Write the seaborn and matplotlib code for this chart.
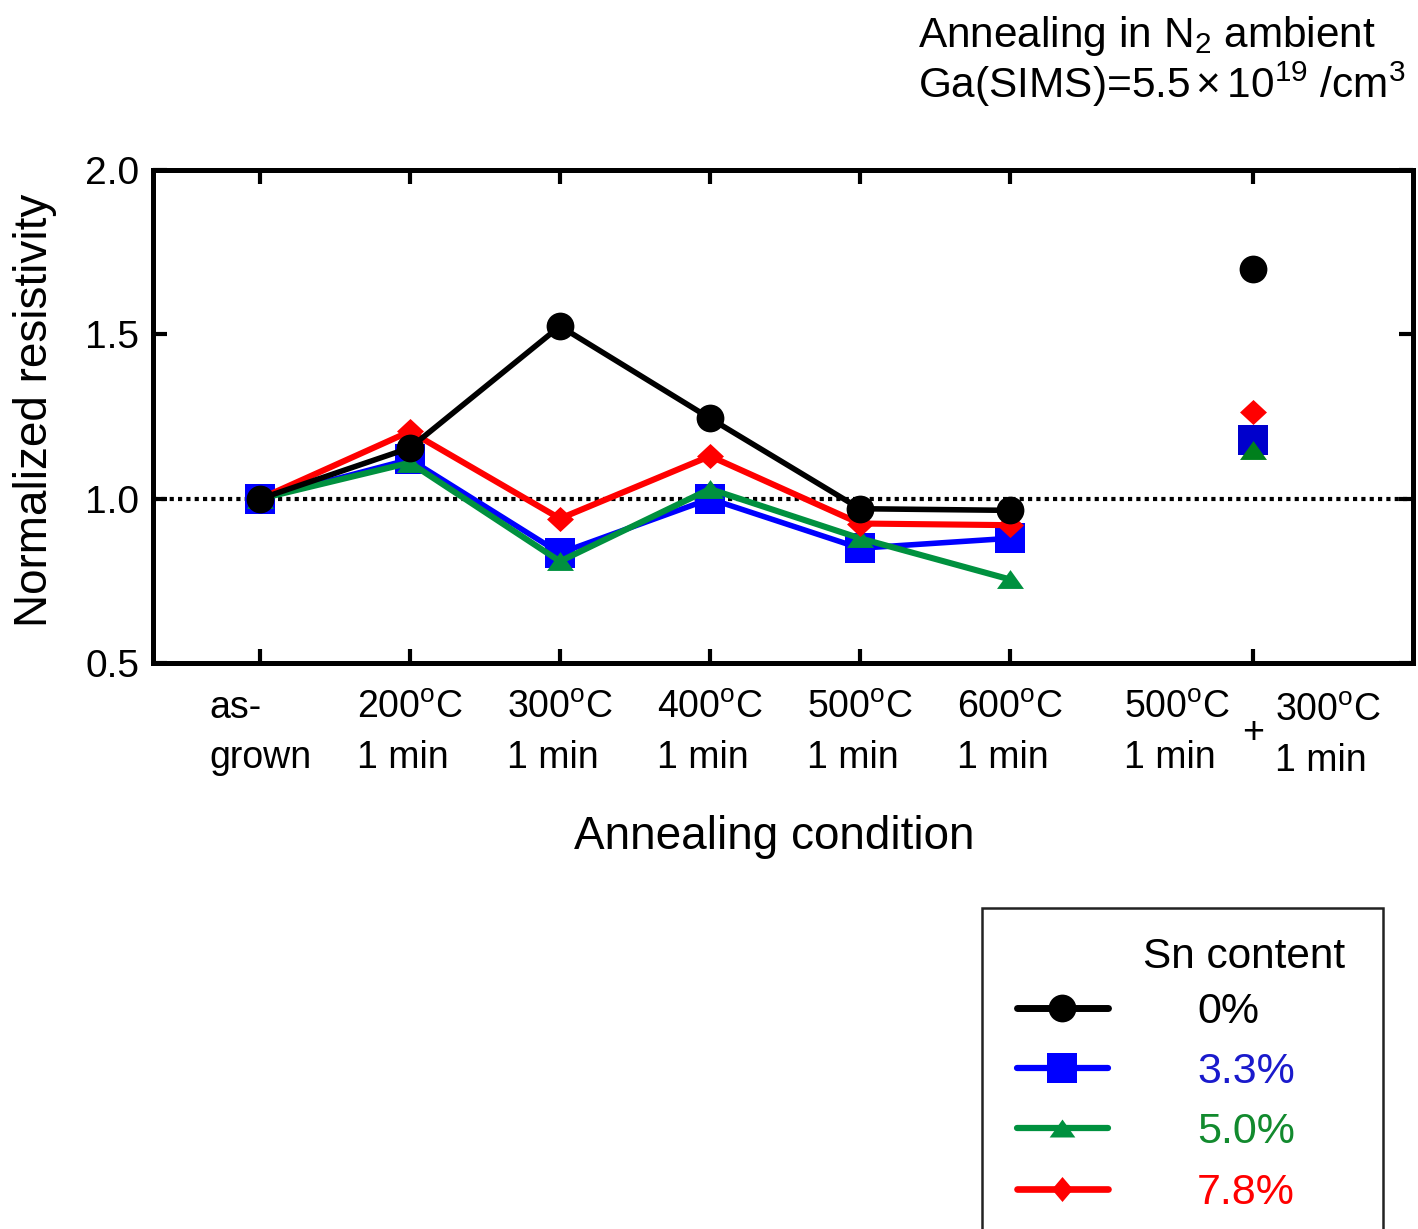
import numpy as np
import pandas as pd
import matplotlib
matplotlib.use("Agg")
import matplotlib.pyplot as plt
from matplotlib.lines import Line2D
from matplotlib.markers import MarkerStyle
from matplotlib.patches import Rectangle
import seaborn as sns

# ---- data -------------------------------------------------------------
condition_labels = [
    "as-\ngrown",
    "200$^{\\rm o}$C\n1 min",
    "300$^{\\rm o}$C\n1 min",
    "400$^{\\rm o}$C\n1 min",
    "500$^{\\rm o}$C\n1 min",
    "600$^{\\rm o}$C\n1 min",
]
condition_pos = [0, 1, 2, 3, 4, 5]
two_step_pos = 6.62
two_step_first = "500$^{\\rm o}$C\n1 min"
two_step_second = "300$^{\\rm o}$C\n1 min"

sn_labels = ["0%", "3.3%", "5.0%", "7.8%"]
rho_sn0 = [1.00, 1.155, 1.525, 1.245, 0.970, 0.965]
rho_sn33 = [1.00, 1.120, 0.835, 1.000, 0.850, 0.880]
rho_sn50 = [1.00, 1.110, 0.810, 1.030, 0.880, 0.755]
rho_sn78 = [1.00, 1.205, 0.940, 1.130, 0.925, 0.920]
rho_two_step = [1.70, 1.18, 1.15, 1.265]

# ---- style ------------------------------------------------------------
sns.set_theme(style="white")
plt.rcParams["font.family"] = ["Liberation Sans", "DejaVu Sans"]
plt.rcParams["mathtext.fontset"] = "custom"
plt.rcParams["mathtext.rm"] = "Liberation Sans"
plt.rcParams["mathtext.it"] = "Liberation Sans:italic"
plt.rcParams["mathtext.bf"] = "Liberation Sans:bold"
for key in ["text.color", "axes.labelcolor", "xtick.color", "ytick.color"]:
    plt.rcParams[key] = "black"

tri = MarkerStyle([(0, 0.7), (-1, -0.7), (1, -0.7)])
dia = MarkerStyle([(0, 0.93), (-1, 0), (0, -0.93), (1, 0)])
dia_tall = MarkerStyle([(0, 1), (-0.85, 0), (0, -1), (0.85, 0)])

series = [
    dict(vals=rho_sn0, color="#000000", two_color="#000000", marker="o", ms=20, lw=4.0, z=6),
    dict(vals=rho_sn33, color="#0000ff", two_color="#0000cc", marker="s", ms=21.6, lw=4.0, z=3),
    dict(vals=rho_sn50, color="#00913f", two_color="#007f1c", marker=tri, ms=19.4, lw=4.4, z=4),
    dict(vals=rho_sn78, color="#ff0000", two_color="#ff0000", marker=dia, ms=19.4, lw=4.4, z=5),
]
text_colors = ["#000000", "#1a1acc", "#128a2e", "#ff0000"]

fig = plt.figure(figsize=(14.18, 12.29), dpi=100)
ax = fig.add_axes([0.1079, 0.4603, 0.8889, 0.4014])

ax.axhline(1.0, color="black", lw=3.0, ls=(0, (1, 1)), zorder=1)

for s, two in zip(series, rho_two_step):
    df = pd.DataFrame({"condition": condition_pos, "rho": s["vals"]})
    sns.lineplot(data=df, x="condition", y="rho", ax=ax, color=s["color"],
                 marker=s["marker"], markersize=s["ms"], markeredgewidth=0,
                 linewidth=s["lw"], zorder=s["z"], legend=False)
    df2 = pd.DataFrame({"condition": [two_step_pos], "rho": [two]})
    sns.lineplot(data=df2, x="condition", y="rho", ax=ax, color=s["two_color"],
                 marker=s["marker"], markersize=s["ms"], markeredgewidth=0,
                 linewidth=0, zorder=s["z"], legend=False)

ax.set_xlim(-0.713, 7.69)
ax.set_ylim(0.5, 2.0)
ax.set_xticks(condition_pos + [two_step_pos])
ax.set_xticklabels(condition_labels + [""])
ax.set_yticks([0.5, 1.0, 1.5, 2.0])
ax.set_yticklabels(["0.5", "1.0", "1.5", "2.0"])
ax.tick_params(direction="in", length=10, width=3, color="black",
               top=True, right=True, bottom=True, left=True)
ax.tick_params(axis="x", labelsize=27, pad=19)
ax.tick_params(axis="y", labelsize=28, pad=10)
for lab in ax.get_xticklabels():
    lab.set_multialignment("left")
    lab.set_linespacing(1.5)
for sp in ax.spines.values():
    sp.set_linewidth(3.6)
    sp.set_color("black")
    sp.set_zorder(10)

# two-step annealing label
blend = ("data", "axes fraction")
ax.annotate(two_step_first, xy=(two_step_pos, 0), xycoords=blend,
            xytext=(-16.5, -19.2), textcoords="offset points", ha="right",
            va="top", fontsize=27, linespacing=1.5, multialignment="left")
ax.annotate(two_step_second, xy=(two_step_pos, 0), xycoords=blend,
            xytext=(15.8, -21.4), textcoords="offset points", ha="left",
            va="top", fontsize=27, linespacing=1.5, multialignment="left")
ax.annotate("+", xy=(two_step_pos, 0), xycoords=blend,
            xytext=(0, -50), textcoords="offset points", ha="center",
            va="center", fontsize=27)

ax.set_xlabel("Annealing condition", fontsize=33)
ax.xaxis.set_label_coords(0.493, -0.3075)
ax.set_ylabel("Normalized resistivity", fontsize=33)
ax.yaxis.set_label_coords(-0.076, 0.512)

fig.text(918 / 1418, 1 - 47 / 1229, "Annealing in N$_2$ ambient",
         fontsize=30.5, va="baseline", ha="left")
fig.text(918 / 1418, 1 - 98 / 1229, "Ga(SIMS)=5.5$\\,$×$\\,$10$^{19}$ /cm$^3$",
         fontsize=30.5, va="baseline", ha="left")

# legend
handles = [
    Line2D([], [], color="#000000", lw=5, marker="o", ms=20, mew=0),
    Line2D([], [], color="#0000ff", lw=4.5, marker="s", ms=21.6, mew=0),
    Line2D([], [], color="#00913f", lw=4.5, marker=tri, ms=18.5, mew=0),
    Line2D([], [], color="#ff0000", lw=4.8, marker=dia_tall, ms=18, mew=0),
]
fig.legend(handles, sn_labels, loc="upper left",
           bbox_to_anchor=(1017 / 1418, 1 - 992 / 1229), frameon=False,
           fontsize=31, handlelength=2.11, handletextpad=2.07,
           labelspacing=0.47, borderpad=0, borderaxespad=0,
           labelcolor=text_colors)
fig.text(1143 / 1418, 1 - 968 / 1229, "Sn content", fontsize=30.5,
         va="baseline", ha="left")
fig.add_artist(Rectangle((982 / 1418, -0.05), 401 / 1418, (1229 - 908) / 1229 + 0.05,
                         transform=fig.transFigure, fill=False, lw=1.8,
                         edgecolor="#222222", clip_on=False))

fig.savefig("out.png", dpi=100)
